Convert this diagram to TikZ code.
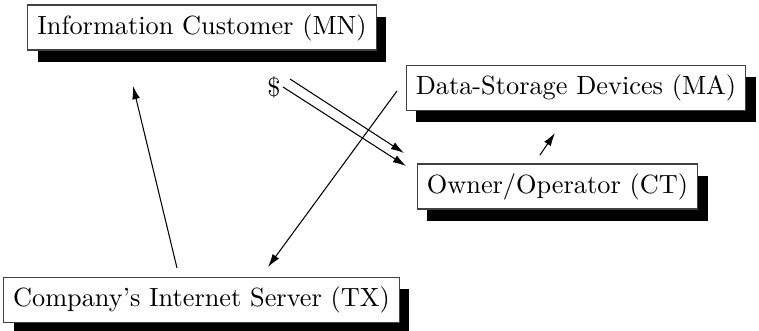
\documentclass[tikz,border=0pt]{standalone}
\usetikzlibrary{shadows,arrows.meta}
\begin{document}
\begin{tikzpicture}[x=0.38pt,y=-0.38pt,
  shadowbox/.style={draw=black!75,line width=0.4pt,fill=white,inner xsep=3.6pt,
    minimum height=45*0.38pt,
    drop shadow={shadow xshift=3.8pt,shadow yshift=-4.4pt,fill=black,opacity=1}},
  link/.style={line width=0.4pt,-{Latex[length=5pt,width=3pt]}}]
\useasboundingbox (0,0) rectangle (759,331);
% the four parties
\node[shadowbox] (mn) at (202,27.5) {Information Customer (MN)};
\node[shadowbox] (ma) at (576,88) {Data-Storage Devices (MA)};
\node[shadowbox] (ct) at (557.5,186.5) {Owner/Operator (CT)};
\node[shadowbox] (tx) at (201.5,300) {Company's Internet Server (TX)};
% payment label
\node (usd) at (274,87) {\$};
% free ends of the connectors
\coordinate (txa) at (177,268);
\coordinate (mna) at (133,86);
\coordinate (maa) at (397,91);
\coordinate (txb) at (268,267);
\coordinate (p1s) at (290,79);
\coordinate (p1e) at (404,153);
\coordinate (p2s) at (283,87);
\coordinate (p2e) at (406,166);
\coordinate (cta) at (540,155);
\coordinate (mab) at (555,133);
% flows
\draw[link] (txa) -- (mna);
\draw[link] (maa) -- (txb);
\draw[link] (p1s) -- (p1e);
\draw[link] (p2s) -- (p2e);
\draw[link] (cta) -- (mab);
\end{tikzpicture}
\end{document}
